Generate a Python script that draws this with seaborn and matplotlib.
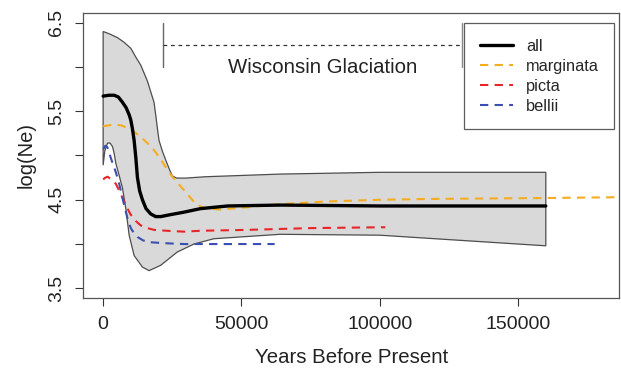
import numpy as np
import pandas as pd
import matplotlib
matplotlib.use("Agg")
import matplotlib.pyplot as plt
import seaborn as sns

# values (years before present, log(Ne))
band_x = [0, 2500, 5200, 7500, 10000, 12000, 13600, 16000, 17800, 18400, 19000,
          19600, 20200, 21400, 22600, 24000, 25000, 26500, 30000, 37000, 64000,
          100000, 130000, 160000]
band_upper = [6.40, 6.37, 6.33, 6.28, 6.21, 6.10, 6.02, 5.84, 5.66, 5.60, 5.46,
              5.31, 5.17, 5.05, 4.95, 4.84, 4.77, 4.745, 4.745, 4.76, 4.79,
              4.81, 4.81, 4.81]
low_x = [0, 600, 1600, 2500, 3400, 4000, 4600, 6000, 7000, 8200, 9400, 11200,
         14200, 16600, 20800, 26800, 32800, 40000, 64000, 100000, 120000, 160000]
band_lower = [4.89, 5.05, 5.14, 5.14, 5.10, 5.02, 4.91, 4.75, 4.63, 4.40, 4.10, 3.87,
              3.74, 3.70, 3.76, 3.91, 4.00, 4.06, 4.11, 4.10, 4.06, 3.98]

all_x = [0, 2000, 4000, 5500, 7000, 8300, 9400, 10000, 10600, 11200, 11800, 12400,
         13200, 14200, 15500, 17200, 19000, 20800, 24000, 29200, 35200, 45000,
         64000, 100000, 160000]
all_y = [5.67, 5.68, 5.68, 5.66, 5.60, 5.54, 5.46, 5.40, 5.30, 5.17, 4.98, 4.75,
         4.60, 4.50, 4.40, 4.34, 4.31, 4.31, 4.33, 4.36, 4.40, 4.43,
         4.44, 4.43, 4.43]

marg_x = [0, 2000, 4000, 6500, 8800, 11000, 13600, 16000, 18400, 20500, 22600,
          25000, 26200, 28000, 29800, 31600, 33400, 35500, 38000, 42400, 50000,
          64000, 80000, 100000, 120000, 160000, 190000]
marg_y = [5.33, 5.34, 5.35, 5.34, 5.31, 5.27, 5.21, 5.14, 5.06, 4.97, 4.87,
          4.76, 4.72, 4.65, 4.59, 4.52, 4.46, 4.42, 4.40, 4.39, 4.41,
          4.45, 4.48, 4.50, 4.51, 4.52, 4.53]

picta_x = [0, 800, 1600, 3000, 4600, 6000, 7600, 8800, 10000, 11800, 13600,
           16000, 18400, 23000, 29200, 35200, 52000, 75000, 102000]
picta_y = [4.73, 4.75, 4.76, 4.73, 4.68, 4.59, 4.48, 4.40, 4.33, 4.26, 4.21,
           4.18, 4.16, 4.15, 4.14, 4.15, 4.16, 4.18, 4.19]

bellii_x = [0, 800, 1600, 2800, 3700, 4600, 5800, 6700, 7600, 8800, 10000,
            11200, 12400, 14500, 17200, 22000, 29200, 45000, 62000]
bellii_y = [5.07, 5.11, 5.09, 4.97, 4.89, 4.81, 4.68, 4.56, 4.44, 4.29, 4.18,
            4.12, 4.08, 4.04, 4.02, 4.01, 4.00, 4.00, 4.00]

glaciation_start = 21800
glaciation_end = 129700

sns.set_style("ticks")
plt.rcParams['font.family'] = ['Liberation Sans', 'DejaVu Sans']

fig = plt.figure(figsize=(6.21, 3.68), dpi=100)
ax = fig.add_axes([0.134, 0.19, 0.863, 0.775])

# confidence band for "all"
poly_x = list(band_x) + list(low_x[::-1])
poly_y = list(band_upper) + list(band_lower[::-1])
ax.fill(poly_x, poly_y, facecolor='#d9d9d9', edgecolor='#4d4d4d', linewidth=0.9, zorder=1)

dash = (0, (4, 3))
sns.lineplot(x=all_x, y=all_y, color='black', linewidth=2.4, label='all', ax=ax, zorder=4)
sns.lineplot(x=marg_x, y=marg_y, color='#f5ac1e', linewidth=1.5, linestyle=dash,
             label='marginata', ax=ax, zorder=3)
sns.lineplot(x=picta_x, y=picta_y, color='#e8262a', linewidth=1.5, linestyle=dash,
             label='picta', ax=ax, zorder=3)
sns.lineplot(x=bellii_x, y=bellii_y, color='#3a4fb0', linewidth=1.5, linestyle=dash,
             label='bellii', ax=ax, zorder=3)

# Wisconsin glaciation annotation
ax.plot([glaciation_start, glaciation_start], [6.0, 6.5], color='#666666', linewidth=1)
ax.plot([glaciation_end, glaciation_end], [6.0, 6.5], color='#888888', linewidth=1)
ax.plot([glaciation_start, glaciation_end], [6.25, 6.25], color='#333333', linewidth=0.9,
        linestyle=(0, (3, 3)))
ax.text(79500, 5.99, 'Wisconsin Glaciation',
        ha='center', va='center', fontsize=14.7, color='#222222')

ax.set_xlim(-7200, 186500)
ax.set_ylim(3.39, 6.61)
ax.set_xticks([0, 50000, 100000, 150000])
ax.set_xticklabels(['0', '50000', '100000', '150000'])
yt = [3.5, 4.0, 4.5, 5.0, 5.5, 6.0, 6.5]
ax.set_yticks(yt)
ax.set_yticklabels(['3.5', '', '4.5', '', '5.5', '', '6.5'], rotation=90, va='center')
ax.tick_params(axis='both', labelsize=14, length=5.5, width=0.8, color='#333333',
               labelcolor='#222222')
ax.tick_params(axis='x', pad=7.3)
ax.tick_params(axis='y', pad=7.5)
for s in ax.spines.values():
    s.set_color('#555555')
    s.set_linewidth(0.9)

ax.set_xlabel('Years Before Present', fontsize=14.7, color='#222222', labelpad=11)
ax.set_ylabel('log(Ne)', fontsize=14.5, color='#222222', labelpad=9)

leg = ax.legend(loc='upper right', bbox_to_anchor=(0.991, 0.9635), fontsize=11.8,
                frameon=True, fancybox=False, handlelength=2.0, handletextpad=0.8,
                labelspacing=0.3, borderpad=0.95, borderaxespad=0)
leg.get_frame().set_edgecolor('#333333')
leg.get_frame().set_linewidth(0.9)

fig.savefig('out.png', dpi=100)
